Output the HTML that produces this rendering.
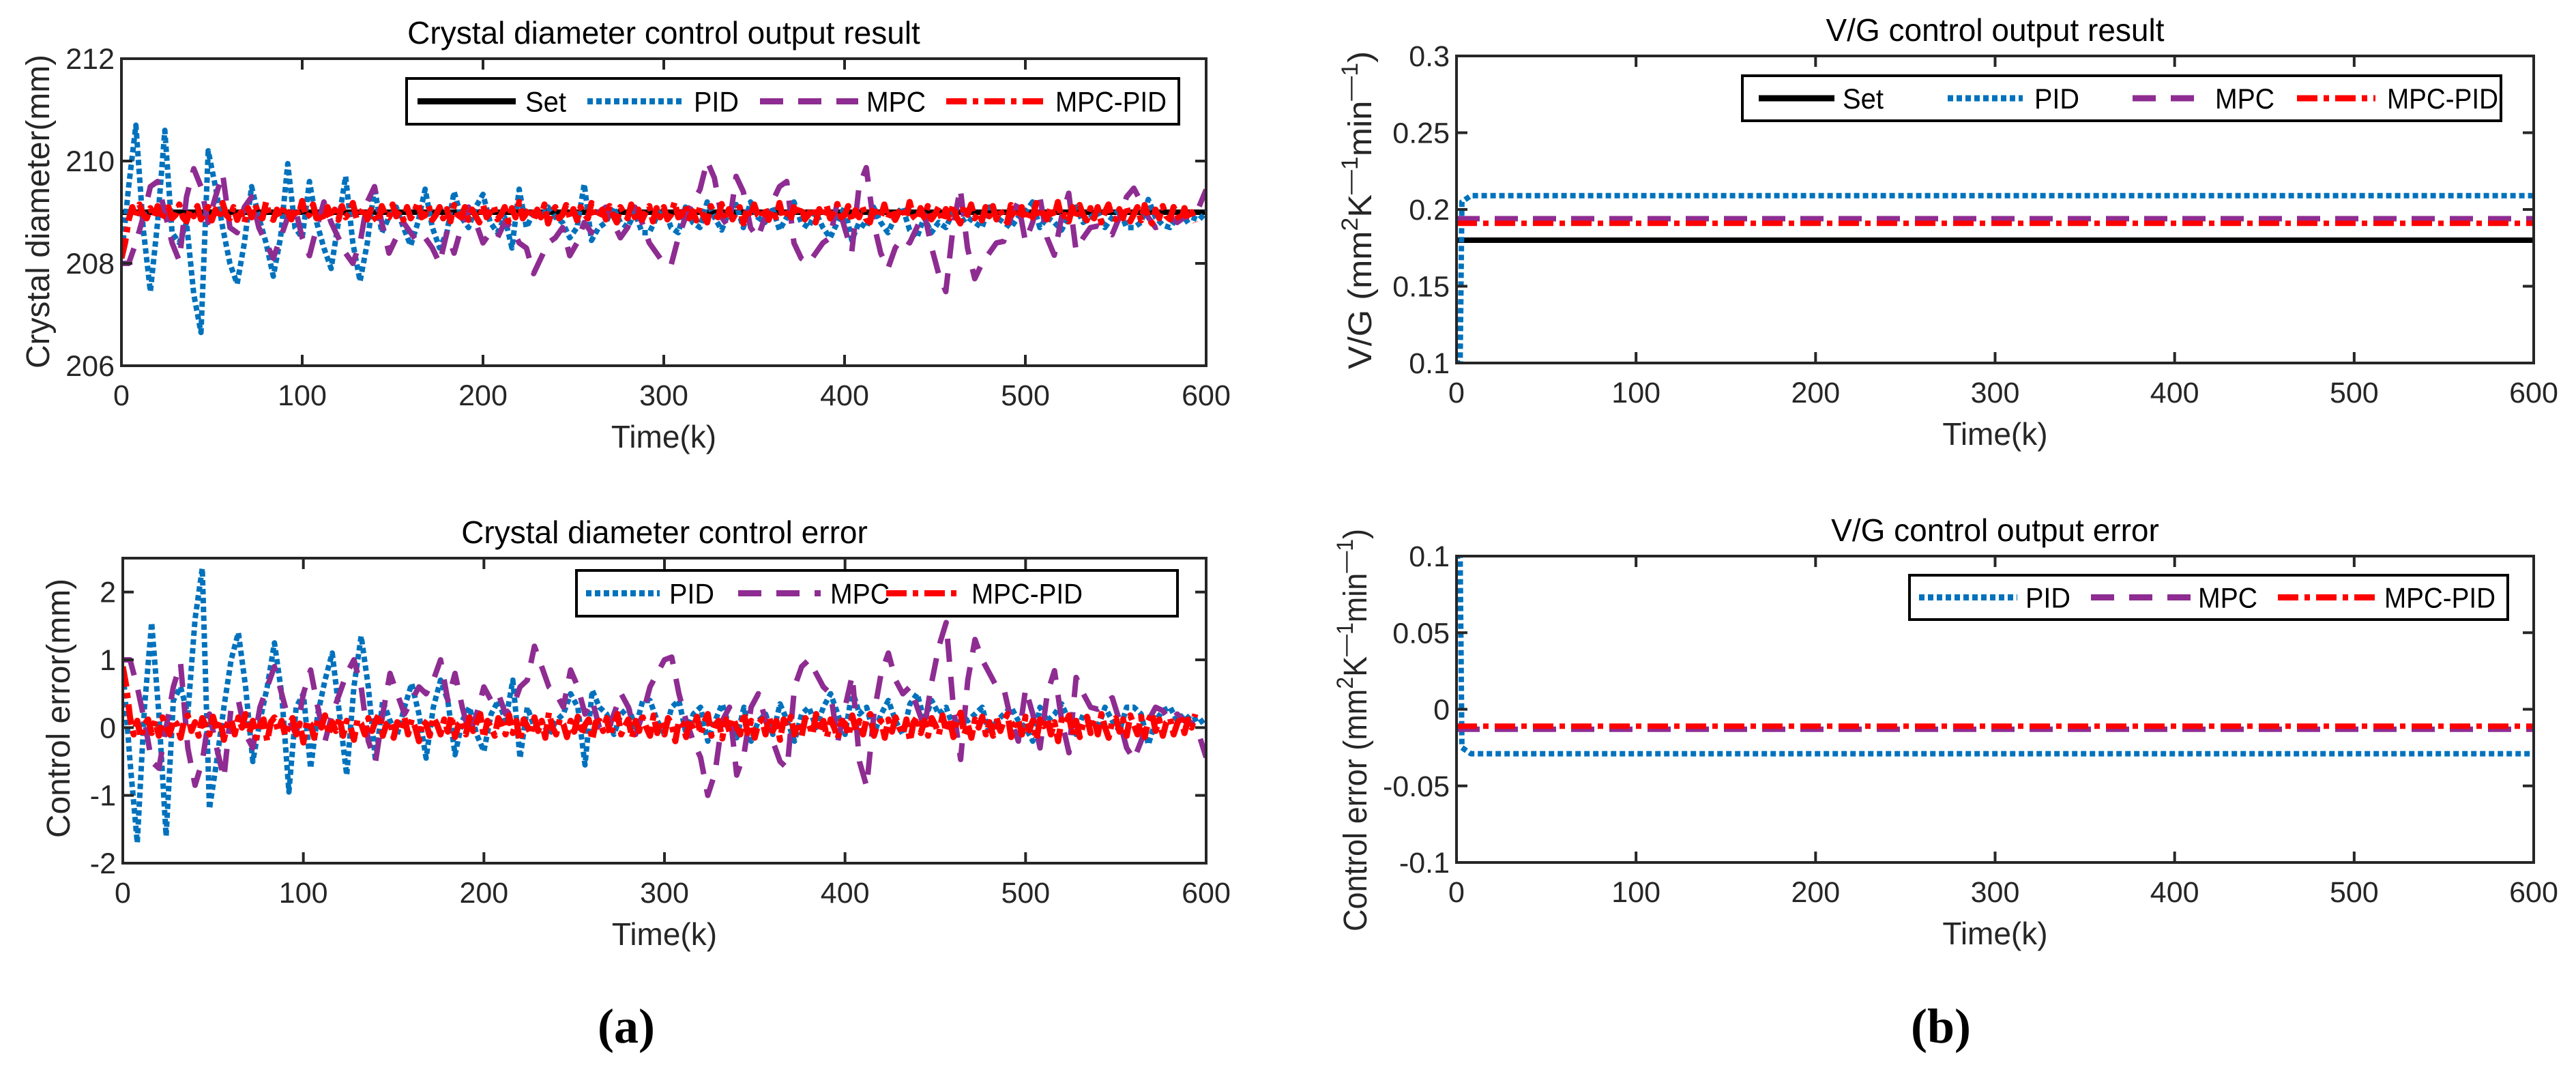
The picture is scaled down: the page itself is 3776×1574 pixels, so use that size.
<!DOCTYPE html>
<html><head><meta charset="utf-8">
<style>
html,body{margin:0;padding:0;background:#fff;}
svg{display:block;font-family:"Liberation Sans",Arial,sans-serif;}
</style></head>
<body>
<svg id="fig" width="3776" height="1574" viewBox="0 0 3776 1574" xmlns="http://www.w3.org/2000/svg">
<rect x="0" y="0" width="3776" height="1574" fill="#fff"/>
<text x="918" y="1528" text-anchor="middle" font-family="Liberation Serif,serif" font-weight="bold" font-size="72">(a)</text>
<text x="2845" y="1528" text-anchor="middle" font-family="Liberation Serif,serif" font-weight="bold" font-size="72">(b)</text>
</svg>
<script>
// ---- data (error = set - output) ----
const diaSet = 209;
const stepK = 4;
const stepKRed = 2;
const pidErr = [0.9,-0.5,-1.7,0.3,1.55,0.2,-1.6,0.4,0.6,0.2,1.6,2.35,-1.2,-0.5,0.3,1.0,1.4,0.6,-0.5,0.1,0.6,1.25,0.5,-0.95,0.3,0.5,-0.6,0.2,0.7,1.1,0.2,-0.7,0.6,1.35,0.6,-0.5,0.4,0.1,-0.1,0.3,0.65,0.2,-0.45,0.3,0.7,0.4,-0.4,0.1,0.3,-0.1,-0.35,0.2,0.4,0.1,0.7,-0.45,0.3,0.0,0.1,-0.1,0.1,0.2,0.5,0.3,-0.55,0.55,0.3,0.2,-0.1,0.2,0.3,0.0,0.4,0.4,0.1,-0.1,0.3,0.4,-0.1,0.2,0.3,-0.2,0.1,0.35,0.0,-0.15,0.3,-0.2,0.1,0.2,-0.1,0.35,0.1,-0.2,0.2,0.3,0.0,0.3,0.5,0.2,-0.1,0.55,0.2,0.3,-0.1,0.2,0.4,0.1,-0.1,0.35,0.5,0.1,0.4,0.2,0.3,0.0,0.2,0.1,0.2,0.3,-0.1,0.1,0.2,0.3,0.1,0.0,-0.2,0.3,0.1,0.2,0.35,0.1,-0.1,0.2,0.1,0.0,0.3,0.1,-0.05,0.3,0.3,0.2,-0.25,0.1,0.25,0.3,0.1,0.2,0.1,0.15,0.0];
const mpcErr = [1.0,1.0,0.6,0.1,-0.5,-0.6,0.0,0.6,0.95,-0.3,-0.85,-0.5,0.2,-0.3,-0.75,0.3,0.4,-0.1,-0.3,0.3,0.6,0.9,0.5,0.1,-0.1,0.5,0.85,0.3,-0.2,0.2,0.5,0.8,1.0,0.6,-0.2,-0.5,0.2,0.8,0.5,0.2,0.4,0.6,0.5,0.7,1.0,0.4,0.8,0.3,-0.1,0.2,0.6,0.4,0.5,0.2,0.3,0.6,0.7,1.2,0.9,0.6,0.5,0.3,0.85,0.6,0.2,0.4,0.0,-0.1,0.2,0.5,0.3,-0.1,0.2,0.6,0.8,1.0,1.04,0.5,0.1,-0.2,-0.44,-1.0,-0.67,0.1,0.3,-0.7,-0.4,0.3,0.5,0.1,-0.2,-0.5,-0.6,0.6,0.9,1.0,0.8,0.6,0.5,-0.2,0.3,0.77,-0.5,-0.87,0.2,0.8,1.1,0.7,0.5,0.6,0.3,0.0,0.67,1.2,1.55,0.3,-0.47,0.7,1.3,1.0,0.8,0.6,0.57,0.1,-0.2,0.57,0.2,-0.3,0.5,0.84,0.1,-0.37,0.74,0.5,0.3,0.27,0.35,0.44,0.1,-0.3,-0.47,-0.2,0.1,0.3,0.25,0.1,0.2,0.1,0.07,-0.1,-0.44];
const mpcPidErr = [0.9,0.6,0.15,-0.1,0.1,-0.15,0.05,0.12,-0.08,0.1,-0.12,0.15,0.0,-0.1,0.12,0.05,-0.15,0.1,0.18,-0.05,0.08,-0.12,0.14,0.02,-0.1,0.16,-0.05,0.1,-0.18,0.06,0.12,-0.1,0.15,0.0,0.2,-0.08,0.1,-0.15,0.05,0.12,-0.2,0.08,0.15,-0.05,0.1,-0.12,0.02,0.14,-0.1,0.06,-0.22,0.1,0.05,-0.15,0.12,0.0,0.18,-0.1,0.08,-0.05,0.15,-0.12,0.1,0.02,-0.18,0.12,0.06,-0.1,0.14,-0.05,0.1,0.2,-0.12,0.05,0.1,-0.15,0.08,-0.02,0.15,-0.1,0.12,0.0,-0.2,0.1,0.06,-0.12,0.15,0.05,-0.1,0.12,-0.06,0.18,-0.14,0.05,0.1,-0.1,0.15,-0.05,0.08,0.2,-0.15,0.1,0.0,-0.12,0.14,0.05,-0.1,0.18,-0.08,0.1,-0.2,0.12,0.02,-0.1,0.15,-0.05,0.1,-0.15,0.22,0.0,-0.1,0.12,0.05,-0.14,0.1,-0.06,0.16,-0.1,0.04,0.12,-0.18,0.08,0.1,-0.05,0.14,-0.12,0.06,0.2,-0.1,0.02,0.12,-0.15,0.1,-0.05,0.15,0.0,-0.12,0.18,-0.08,0.1,-0.1,0.14,0.05,-0.2,0.1,0.06,-0.14,0.12,-0.02,0.16,-0.1,0.08,0.2,-0.12,0.04,0.1,-0.16,0.12,-0.06,0.14,0.0,-0.1,0.22,-0.08,0.1,-0.15,0.06,0.12,-0.1,0.15,-0.05,0.1,-0.18,0.12,0.02,0.16,-0.1,0.08,-0.12,0.14,0.05,-0.1,0.2,-0.06,0.1,-0.14,0.12,0.0,-0.16,0.1,0.06,-0.12,0.18,-0.04,0.1,-0.1,0.14,0.2,-0.12,0.05,0.1,-0.15,0.12,-0.06,0.15,0.0,-0.1,0.12,-0.2,0.08,0.16,-0.08,0.1,-0.12,0.14,0.04,-0.1,0.18,-0.06,0.12,-0.14,0.1,0.22,-0.1,0.05,-0.15,0.12,0.0,0.16,-0.1,0.08,-0.12,0.14,-0.05,0.1,0.2,-0.14,0.06,0.12,-0.1,0.16,-0.04,0.1,-0.18,0.12,0.02,0.14,-0.1,0.08,-0.2,0.12,0.05,0.18,-0.1,0.1,-0.14,0.06,0.16,-0.08,0.12,-0.1,0.2,0.0,-0.15,0.1,0.14,-0.06,0.12,-0.12,0.18,0.04,-0.1,0.16,-0.14,0.1,0.22,-0.05,0.12,-0.12,0.08,0.14,-0.1,0.06,0.18,-0.08,0.12,0.0,0.2];
// V/G data
const vgK = [0,2,3,8,600];
const vgSet = [0.18,0.18,0.18,0.18,0.18];
const vgPid = [0.1,0.1,0.205,0.209,0.209];
const vgMpc = [0.194,0.194,0.194,0.194,0.194];
const vgMpcPid = [0.191,0.191,0.191,0.191,0.191];
const vgErrPid = [0.1,0.1,-0.025,-0.029,-0.029];
const vgErrMpc = [-0.013,-0.013,-0.013,-0.013,-0.013];
const vgErrMpcPid = [-0.011,-0.011,-0.011,-0.011,-0.011];
const xTicks = [0,100,200,300,400,500,600];
const diaTicks = [206,208,210,212];
const errTicks = [-2,-1,0,1,2];
const vgTicks = [0.1,0.15,0.2,0.25,0.3];
const vgTickLabels = ["0.1","0.15","0.2","0.25","0.3"];
const vgErrTicks = [-0.1,-0.05,0,0.05,0.1];
const vgErrTickLabels = ["-0.1","-0.05","0","0.05","0.1"];

const NS = "http://www.w3.org/2000/svg";
const svg = document.getElementById('fig');
function mk(tag, attrs, parent){const e=document.createElementNS(NS,tag);for(const k in attrs)e.setAttribute(k,attrs[k]);(parent||svg).appendChild(e);return e;}
const STY = {
 set:{stroke:'#000000',dash:'none'},
 pid:{stroke:'#0072BD',dash:'8 5'},
 mpc:{stroke:'#8E2C92',dash:'34 22'},
 mpcpid:{stroke:'#FF0000',dash:'30 9 8 9'}
};
const LEGW = {Set:60,PID:66,MPC:87,'MPC-PID':163};
let clipId=0;
function panel(p){
  const g=mk('g',{});
  
  
  const X=k=>p.x0+(k-0)/(600)*(p.x1-p.x0);
  const Y=v=>p.y1-(v-p.ymin)/(p.ymax-p.ymin)*(p.y1-p.y0);
  const t=mk('text',{x:(p.x0+p.x1)/2,y:p.y0-22,'text-anchor':'middle','font-size':46,fill:'#000'},g);
  t.textContent=p.title;
  
  
  const cid='c'+(clipId++);
  const cp=mk('clipPath',{id:cid},g);mk('rect',{x:p.x0,y:p.y0,width:p.x1-p.x0,height:p.y1-p.y0},cp);
  const sg=mk('g',{'clip-path':'url(#'+cid+')'},g);
  p.series.forEach(s=>{
    const pts=s.ks.map((k,i)=>X(k).toFixed(1)+','+Y(s.vals[i]).toFixed(1)).join(' ');
    const pl=mk('polyline',{points:pts,fill:'none',stroke:STY[s.sty].stroke,'stroke-width':s.w||8,'stroke-dasharray':STY[s.sty].dash,'stroke-linejoin':'round'},sg);
    
    
  });
  const fr=mk('rect',{x:p.x0,y:p.y0,width:p.x1-p.x0,height:p.y1-p.y0,fill:'none',stroke:'#262626','stroke-width':4},g);
  
  
  xTicks.forEach(k=>{
    const x=X(k);
    mk('line',{x1:x,y1:p.y1,x2:x,y2:p.y1-16,stroke:'#262626','stroke-width':4},g);
    mk('line',{x1:x,y1:p.y0,x2:x,y2:p.y0+16,stroke:'#262626','stroke-width':4},g);
    const tl=mk('text',{x:x,y:p.y1+58,'text-anchor':'middle','font-size':43,fill:'#262626'},g);
    tl.textContent=k;
    
    
  });
  p.yt.forEach((v,i)=>{
    const y=Y(v);
    mk('line',{x1:p.x0,y1:y,x2:p.x0+16,y2:y,stroke:'#262626','stroke-width':4},g);
    mk('line',{x1:p.x1,y1:y,x2:p.x1-16,y2:y,stroke:'#262626','stroke-width':4},g);
    const tl=mk('text',{x:p.x0-10,y:y+15,'text-anchor':'end','font-size':43,fill:'#262626'},g);
    tl.textContent=p.ytl?p.ytl[i]:v;
    
    
  });
  const xl=mk('text',{x:(p.x0+p.x1)/2,y:p.y1+120,'text-anchor':'middle','font-size':46,fill:'#262626'},g);
  xl.textContent='Time(k)';
  
  
  const yl=mk('text',{transform:'translate('+p.ylx+','+p.yly+') rotate(-90)','text-anchor':'middle','font-size':48,fill:'#262626',textLength:p.ylen,lengthAdjust:'spacingAndGlyphs'},g);
  yl.innerHTML=p.ylabel;
  
  
  const L=p.leg;
  const lb=mk('rect',{x:L.x,y:L.y,width:L.w,height:L.h,fill:'#fff',stroke:'#000','stroke-width':4},g);
  
  
  L.items.forEach(it=>{
    const cy=L.y+L.h/2;
    const ln=mk('line',{x1:it[1],y1:cy,x2:it[2],y2:cy,stroke:STY[it[0]].stroke,'stroke-width':9,'stroke-dasharray':STY[it[0]].dash},g);
    
    
    const tx=mk('text',{x:it[3],y:cy+15,'font-size':42,fill:'#000',textLength:LEGW[it[4]],lengthAdjust:'spacingAndGlyphs'},g);
    tx.textContent=it[4];
    
    
  });
}
const kArr=(a,st)=>a.map((_,i)=>i*st);
const pidK=kArr(pidErr,stepK), mpcK=kArr(mpcErr,stepK), mpK=kArr(mpcPidErr,stepKRed);
const sup='<tspan font-size="34" dy="-20">2</tspan><tspan dy="20">K</tspan><tspan font-size="34" dy="-20">—1</tspan><tspan dy="20">min</tspan><tspan font-size="34" dy="-20">—1</tspan><tspan dy="20">)</tspan>';

panel({name:'diameter-output-chart',title:'Crystal diameter control output result',x0:178,x1:1768,y0:86,y1:536,ymin:206,ymax:212,yt:diaTicks,
 ylabel:'Crystal diameter(mm)',ylx:72,yly:310,ylen:460,
 series:[
  {sty:'set',ks:[0,600],vals:[diaSet,diaSet]},
  {sty:'pid',ks:pidK,vals:pidErr.map(e=>diaSet-e)},
  {sty:'mpc',ks:mpcK,vals:mpcErr.map(e=>diaSet-e)},
  {sty:'mpcpid',ks:mpK,vals:mpcPidErr.map(e=>diaSet-e),w:9}],
 leg:{x:596,y:115,w:1132,h:67,items:[['set',612,756,770,'Set'],['pid',861,999,1017,'PID'],['mpc',1114,1258,1270,'MPC'],['mpcpid',1387,1535,1547,'MPC-PID']]}});

panel({name:'diameter-error-chart',title:'Crystal diameter control error',x0:180,x1:1768,y0:818,y1:1265,ymin:-2,ymax:2.5,yt:errTicks,
 ylabel:'Control error(mm)',ylx:102,yly:1038,ylen:380,
 series:[
  {sty:'pid',ks:pidK,vals:pidErr},
  {sty:'mpc',ks:mpcK,vals:mpcErr},
  {sty:'mpcpid',ks:mpK,vals:mpcPidErr,w:9}],
 leg:{x:845,y:836,w:881,h:67,items:[['pid',859,967,981,'PID'],['mpc',1082,1203,1217,'MPC'],['mpcpid',1299,1407,1424,'MPC-PID']]}});

panel({name:'vg-output-chart',title:'V/G control output result',x0:2135,x1:3714,y0:82,y1:532,ymin:0.1,ymax:0.3,yt:vgTicks,ytl:vgTickLabels,
 ylabel:'V/G (mm'+sup,ylx:2010,yly:308,ylen:466,
 series:[
  {sty:'set',ks:vgK,vals:vgSet},
  {sty:'pid',ks:vgK,vals:vgPid},
  {sty:'mpc',ks:vgK,vals:vgMpc},
  {sty:'mpcpid',ks:vgK,vals:vgMpcPid}],
 leg:{x:2554,y:111,w:1112,h:66,items:[['set',2578,2689,2701,'Set'],['pid',2855,2965,2982,'PID'],['mpc',3126,3230,3247,'MPC'],['mpcpid',3367,3482,3499,'MPC-PID']]}});

panel({name:'vg-error-chart',title:'V/G control output error',x0:2135,x1:3714,y0:815,y1:1264,ymin:-0.1,ymax:0.1,yt:vgErrTicks,ytl:vgErrTickLabels,
 ylabel:'Control error (mm'+sup,ylx:2003,yly:1070,ylen:590,
 series:[
  {sty:'pid',ks:vgK,vals:vgErrPid},
  {sty:'mpc',ks:vgK,vals:vgErrMpc},
  {sty:'mpcpid',ks:vgK,vals:vgErrMpcPid}],
 leg:{x:2799,y:843,w:877,h:65,items:[['pid',2813,2957,2969,'PID'],['mpc',3065,3212,3222,'MPC'],['mpcpid',3339,3489,3495,'MPC-PID']]}});
</script>
</body></html>
